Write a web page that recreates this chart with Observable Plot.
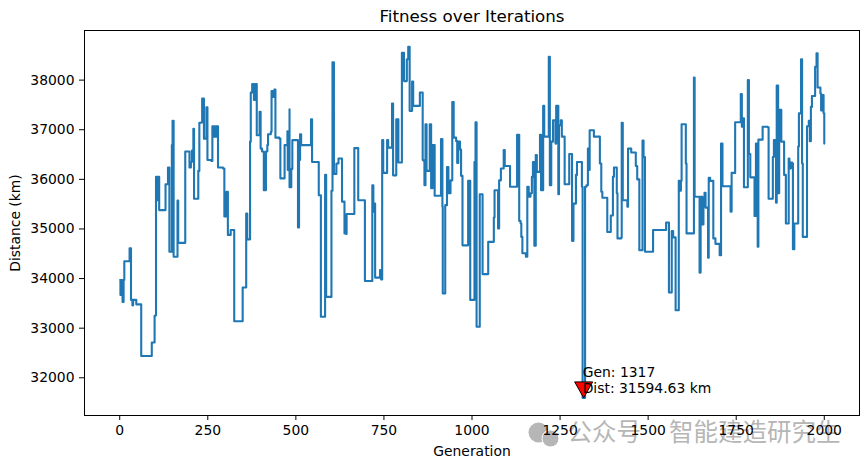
<!DOCTYPE html>
<html><head><meta charset="utf-8">
<style>html,body{margin:0;padding:0;background:#fff}svg{display:block}</style>
<script src="https://cdn.jsdelivr.net/npm/d3@7"></script>
<script src="https://cdn.jsdelivr.net/npm/@observablehq/plot@0.6"></script>
</head><body><div id="c"></div>
<script>
const generations = [1,2,5,8,11,13,26,28,30,32,36,38,46,47,60,61,89,91,98,99,102,103,106,109,112,112,127,130,135,137,141,147,148,150,153,161,164,166,184,186,198,198,202,205,209,211,221,223,226,232,234,237,239,243,246,249,260,263,266,268,271,273,275,279,293,297,303,307,312,315,323,325,347,349,358,359,362,368,370,372,376,381,385,389,395,397,400,404,409,414,415,419,421,429,431,434,439,442,453,456,467,468,473,476,477,482,482,487,490,505,506,509,512,515,542,543,546,563,565,570,571,581,583,586,599,601,604,608,614,615,621,628,631,637,
638,643,644,665,666,675,677,695,696,716,717,720,722,725,738,739,742,745,748,757,759,762,771,773,776,783,785,790,791,798,801,805,807,812,815,819,823,828,830,833,850,852,857,860,863,865,868,871,878,880,882,884,888,891,894,910,912,916,917,922,924,929,933,936,939,942,944,948,955,958,961,966,969,973,987,989,992,995,1005,1007,1010,1013,1020,1022,1028,1030,1044,1046,1060,1062,1064,1071,1074,1077,1082,1089,1090,1093,1102,1108,1126,1128,1132,1134,1138,1140,1143,1149,1153,1157,1161,1166,1170,1173,1177,1181,1184,1191,1193,1196,1201,1202,1205,1216,1218,1221,1225,1230,1233,1237,1239,1245,1247,1252,1255,1259,1263,1274,1276,1280,1284,1288,1292,1295,1298,1310,1312,1313,1314,1321,1325,1329,1331,1334,1344,
1346,1362,1363,1367,1370,1381,1384,1392,1394,1398,1400,1403,1408,1411,1413,1424,1425,1428,1436,1441,1443,1451,1452,1463,1465,1469,1474,1475,1479,1484,1487,1489,1491,1512,1514,1549,1551,1557,1559,1565,1567,1571,1576,1578,1585,1587,1590,1593,1595,1605,1607,1609,1628,1630,1632,1645,1646,1649,1654,1657,1660,1663,1667,1670,1672,1676,1684,1685,1691,1702,1703,1707,1711,1731,1734,1737,1744,1747,1761,1763,1766,1769,1772,1780,1783,1786,1790,1799,1802,1806,1809,1811,1813,1823,1825,1839,1842,1852,1854,1857,1861,1863,1865,1869,1872,1875,1878,1884,1886,1891,1897,1899,1901,1905,1909,1911,1915,1924,1926,1928,1932,1934,1937,1939,1950,1951,1956,1959,1962,1965,1971,1974,1978,1981,1987,1989,1991,1995,1998,2000];
const distances = [33970,33670,33970,33530,33970,34350,34350,34610,34610,33570,33460,33570,33570,33480,33480,32440,32440,32710,32710,33250,33260,36050,35580,36050,35580,35380,35380,35900,35900,36240,34540,34540,36690,37180,34440,34440,35570,34720,34720,36560,36560,36240,36350,36580,37020,35610,35610,36170,37140,37150,37630,37630,36820,36820,37450,36390,36370,37070,37070,36860,37070,36860,37070,36240,36220,35250,35750,34880,34880,34980,34980,33140,33140,33820,33820,35310,34790,34790,36760,37750,37920,37600,37920,36890,36890,37360,36620,36560,35780,35780,36560,36690,36910,36960,37780,37660,37810,36840,36820,36020,36020,36690,36690,36970,36190,37410,35840,36210,36790,36790,35030,36390,36910,36690,36690,37210,36350,36350,35680,35680,33230,33230,36090,33630,33630,35770,38360,36110,36110,36320,36420,36420,35550,35550,
34910,34900,35300,35300,36630,36630,35580,35580,33950,33950,35880,35350,35510,34020,34020,34170,33980,36790,36130,36130,36790,36640,36640,37530,36080,36080,37210,37210,36340,36340,38550,38550,37980,37980,38420,38670,37380,37380,37970,37480,37480,37750,37750,36390,36370,35880,37110,36170,36170,37110,37110,35820,36690,36690,35670,35670,36810,35450,33700,33700,35480,36250,35720,35720,35980,35980,37560,36840,36770,36330,36760,36600,36070,34670,34670,35970,35970,33570,33570,36350,37150,33030,33030,35700,35700,34090,34090,34740,34740,35230,35780,35780,35010,35980,36220,36220,36590,36270,36270,35850,35850,36900,36900,35160,35110,34840,34510,34510,34440,35850,35650,35720,36050,36350,34660,36490,36150,36150,36900,35780,35780,37480,36860,36860,38470,35880,36760,37190,37190,36720,37480,35700,37090,37190,36860,36860,35900,35900,36510,36510,34760,35510,35510,36090,36350,36350,35850,35850,31594.63,35850,35880,36620,36190,36990,36990,
36860,36860,36320,35750,35630,35630,34940,34940,35270,35270,36050,36240,36240,35720,34810,34830,37140,35580,35580,35450,36620,36620,36540,36540,36270,36000,36000,34570,34570,36780,36450,36450,34540,34540,34980,34980,35130,35130,33720,33720,34960,34830,34830,33360,33360,35970,35770,35970,37110,37110,36320,34910,34910,38050,35650,35650,34120,35650,35090,35580,35730,35430,35430,34420,36030,35970,35970,34810,34700,34700,34470,36720,35860,35860,35350,36130,36130,37150,37150,37720,37060,37230,35840,35840,38000,36510,36040,36040,35260,36720,35260,34640,36800,36800,37060,37050,35610,35610,36450,36790,36790,35530,37890,35720,37400,37400,36760,36760,36090,35110,35110,36420,36220,36340,36320,34590,35110,35110,36660,37330,37330,38420,36320,34840,34840,37070,37180,36770,37460,37680,37680,38270,38540,37850,37850,37730,37390,37700,37330,36720];
const bestGen = 1317, bestDist = 31594.63;
const xTicks = [0,250,500,750,1000,1250,1500,1750,2000];
const yTicks = [32000,33000,34000,35000,36000,37000,38000];
const n = Math.min(generations.length,distances.length);
const series = d3.range(n).map(i=>({g:generations[i], d:distances[i]}));
const font = '"DejaVu Sans", sans-serif';
const tip = {draw(ctx){ctx.moveTo(0,0);ctx.lineTo(-9,-16);ctx.lineTo(9,-16);ctx.closePath();}};
const wm = "#b6b6b6";
const chart = Plot.plot({
  width:868,height:468,marginLeft:84,marginRight:9,marginTop:30,marginBottom:53,
  style:{fontFamily:font,fontSize:"13.9px",background:"#fff",color:"#000",overflow:"visible"},
  x:{domain:[-100,2100],label:null},
  y:{domain:[31240,39000],label:null},
  marks:[
    Plot.dot([0],{frameAnchor:"bottom-left",dx:454,dy:17,r:10,fill:wm,stroke:"none"}),
    Plot.dot([0],{frameAnchor:"bottom-left",dx:466,dy:23,r:8.5,fill:wm,stroke:"#fff",strokeWidth:1}),
    Plot.text(["公众号"],{frameAnchor:"bottom-left",dx:483,dy:18,textAnchor:"start",lineAnchor:"middle",fontSize:24.5,fontFamily:'"Noto Sans CJK SC"',fill:wm}),
    Plot.text(["智能建造研究生"],{frameAnchor:"bottom-right",dx:-19,dy:18,textAnchor:"end",lineAnchor:"middle",fontSize:24.5,fontFamily:'"Noto Sans CJK SC"',fill:wm}),
    Plot.frame({stroke:"#000",strokeWidth:1}),
    Plot.axisX({ticks:xTicks,tickFormat:"d",tickSize:5,tickPadding:5,fontSize:13.9,label:"Generation",labelAnchor:"center",labelArrow:"none",labelOffset:40,stroke:"#000"}),
    Plot.axisY({ticks:yTicks,tickFormat:"d",tickSize:5,tickPadding:5,fontSize:13.9,label:"Distance (km)",labelAnchor:"center",labelArrow:"none",labelOffset:74,stroke:"#000"}),
    Plot.line(series,{x:"g",y:"d",curve:"step-after",stroke:"#1f77b4",strokeWidth:2.1,strokeLinejoin:"round"}),
    Plot.dot([{g:bestGen,d:bestDist}],{x:"g",y:"d",symbol:tip,r:5,fill:"#ff0000",stroke:"#000",strokeWidth:1}),
    Plot.text([{g:bestGen,d:bestDist}],{x:"g",y:"d",text:d=>`Gen: ${d.g}\nDist: ${d.d} km`,textAnchor:"start",lineAnchor:"bottom",lineHeight:1.15,dy:-5,dx:-1,fontSize:13.9,fill:"#000"}),
    Plot.text(["Fitness over Iterations"],{frameAnchor:"top",dy:-20,lineAnchor:"top",fontSize:16.7,fill:"#000"})
  ]
});
document.getElementById("c").append(chart);
</script></body></html>
